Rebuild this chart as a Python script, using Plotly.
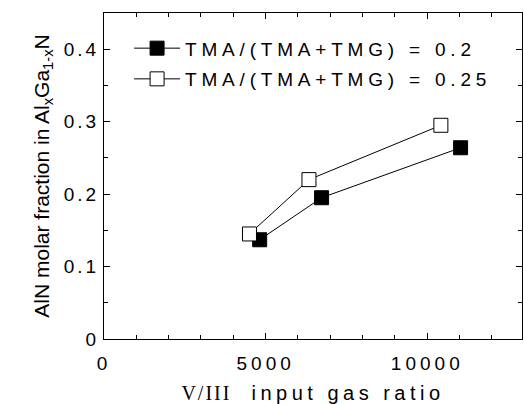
import plotly.graph_objects as go

# data
x_02 = [4815, 6730, 11030]
y_02 = [0.137, 0.195, 0.264]
x_025 = [4500, 6340, 10420]
y_025 = [0.145, 0.220, 0.295]
name_02 = "TMA/(TMA+TMG) = 0.2"
name_025 = "TMA/(TMA+TMG) = 0.25"
x_ticks = [0, 5000, 10000]
y_ticks = [0, 0.1, 0.2, 0.3, 0.4]

FONT = "Liberation Sans, Arial, sans-serif"

def sp(t, ls="letter-spacing:5px"):
    return f'<span style="{ls}">{t}</span>'

fig = go.Figure()
fig.add_trace(go.Scatter(
    x=x_02, y=y_02, mode="lines+markers", name=sp(name_02, "letter-spacing:4.8px"), legendgroup="a",
    line=dict(color="black", width=1),
    marker=dict(symbol="square", size=14, color="black", line=dict(color="black", width=1)),
))
fig.add_trace(go.Scatter(
    x=x_025, y=y_025, mode="lines+markers", name=sp(name_025, "letter-spacing:4.8px"), legendgroup="b",
    line=dict(color="black", width=1),
    marker=dict(symbol="square", size=14, color="white", line=dict(color="black", width=1)),
))

axis_common = dict(
    showgrid=False, zeroline=False, showline=True, linecolor="black", linewidth=1,
    mirror="allticks", ticks="inside", ticklen=6, tickcolor="black", tickwidth=1,
    tickfont=dict(family=FONT, size=19, color="black"),
)
fig.update_xaxes(
    range=[0, 12930], tickvals=x_ticks, ticktext=[sp(str(v), "letter-spacing:4px") for v in x_ticks],
    minor=dict(dtick=1000, ticks="inside", ticklen=4, tickcolor="black"),
    ticklabelstandoff=7,
    title=dict(
        text='<span style="font-family:Liberation Serif, Times New Roman, serif;letter-spacing:2px">V/III</span>'
             + '<span style="letter-spacing:4.5px">  input gas ratio</span>',
        font=dict(family=FONT, size=20, color="black"), standoff=13),
    **axis_common,
)
fig.update_yaxes(
    range=[0, 0.45], tickvals=y_ticks, ticktext=[sp(f"{v:g}", "letter-spacing:3px") for v in y_ticks],
    minor=dict(dtick=0.05, ticks="inside", ticklen=4, tickcolor="black"),
    title=dict(text="AlN molar fraction in Al<sub>x</sub>Ga<sub>1-x</sub>N",
               font=dict(family=FONT, size=21, color="black"), standoff=8),
    **axis_common,
)
fig.update_layout(
    width=524, height=404,
    margin=dict(l=104, r=2, t=13, b=65),
    paper_bgcolor="white", plot_bgcolor="white",
    font=dict(family=FONT, size=19, color="black"),
    showlegend=True,
    legend=dict(x=0.06, y=0.95, xanchor="left", yanchor="top", itemwidth=46,
                bgcolor="rgba(0,0,0,0)", borderwidth=0, tracegroupgap=3,
                font=dict(family=FONT, size=19, color="black")),
)
fig.write_html("out.html")
